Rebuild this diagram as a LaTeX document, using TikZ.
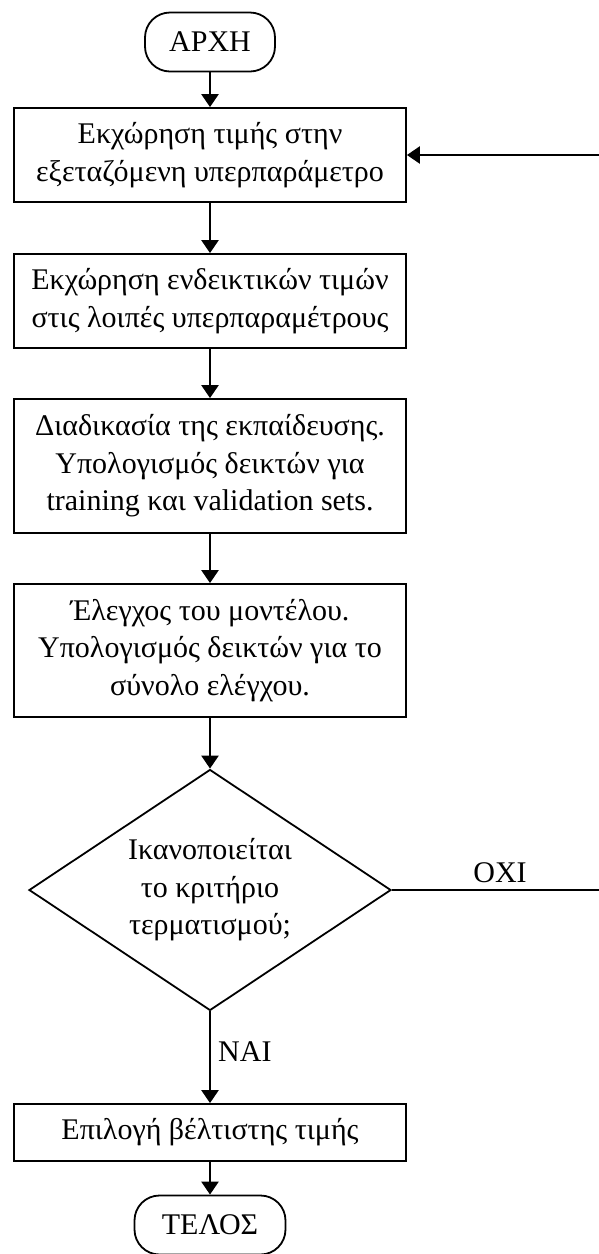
\documentclass[tikz,border=0pt]{standalone}
\usepackage{fontspec}
\setmainfont{Liberation Serif}
\usetikzlibrary{arrows.meta,shapes.geometric}
\begin{document}
\begin{tikzpicture}[x=1pt,y=-1pt,
  font=\fontsize{30}{37.5}\selectfont,
  stepbox/.style={draw, line width=1.8pt, rectangle, inner sep=0pt,
    minimum width=392pt, align=center},
  terminal/.style={draw, line width=1.8pt, rectangle, rounded corners=25pt,
    inner sep=0pt, minimum height=59pt},
  decision/.style={draw, line width=1.8pt, diamond, inner sep=0pt,
    minimum width=362pt, minimum height=241pt},
  flow/.style={line width=2.4pt, -{Triangle[length=13pt,width=17pt]}},
  lbl/.style={inner sep=0pt}]
\useasboundingbox (0,0) rectangle (598,1254);

% process chain
\node[terminal, minimum width=130pt] (start) at (210,42) {ΑΡΧΗ};
\node[stepbox, minimum height=94pt] (b1) at (210,155)
  {Εκχώρηση τιμής στην\\εξεταζόμενη υπερπαράμετρο};
\node[stepbox, minimum height=94pt] (b2) at (210,301)
  {Εκχώρηση ενδεικτικών τιμών\\στις λοιπές υπερπαραμέτρους};
\node[stepbox, minimum height=134pt] (b3) at (210,466)
  {Διαδικασία της εκπαίδευσης.\\Υπολογισμός δεικτών για\\training και validation sets.};
\node[stepbox, minimum height=133pt] (b4) at (210,650.5)
  {Έλεγχος του μοντέλου.\\Υπολογισμός δεικτών για το\\σύνολο ελέγχου.};
\node[decision] (dec) at (210,890) {};
\node[lbl, align=center] (dectext) at (210,890)
  {Ικανοποιείται\\το κριτήριο\\τερματισμού;};
\node[stepbox, minimum height=57pt] (b5) at (210,1132.5)
  {Επιλογή βέλτιστης τιμής};
\node[terminal, minimum width=151pt] (end) at (210,1225) {ΤΕΛΟΣ};

% connectors
\draw[flow] (start) -- (b1);
\draw[flow] (b1) -- (b2);
\draw[flow] (b2) -- (b3);
\draw[flow] (b3) -- (b4);
\draw[flow] (b4) -- (dec.north);
\draw[flow] (dec.south) -- (b5);
\draw[flow] (b5) -- (end);

% loop back when the criterion is not met
\coordinate (loop) at (604,890);
\draw[flow] (dec.east) -- (loop) |- (b1.east);

% branch labels
\node[lbl, anchor=base] (no) at (500,882) {ΟΧΙ};
\node[lbl, anchor=base west] (yes) at (218,1061) {ΝΑΙ};
\end{tikzpicture}
\end{document}
